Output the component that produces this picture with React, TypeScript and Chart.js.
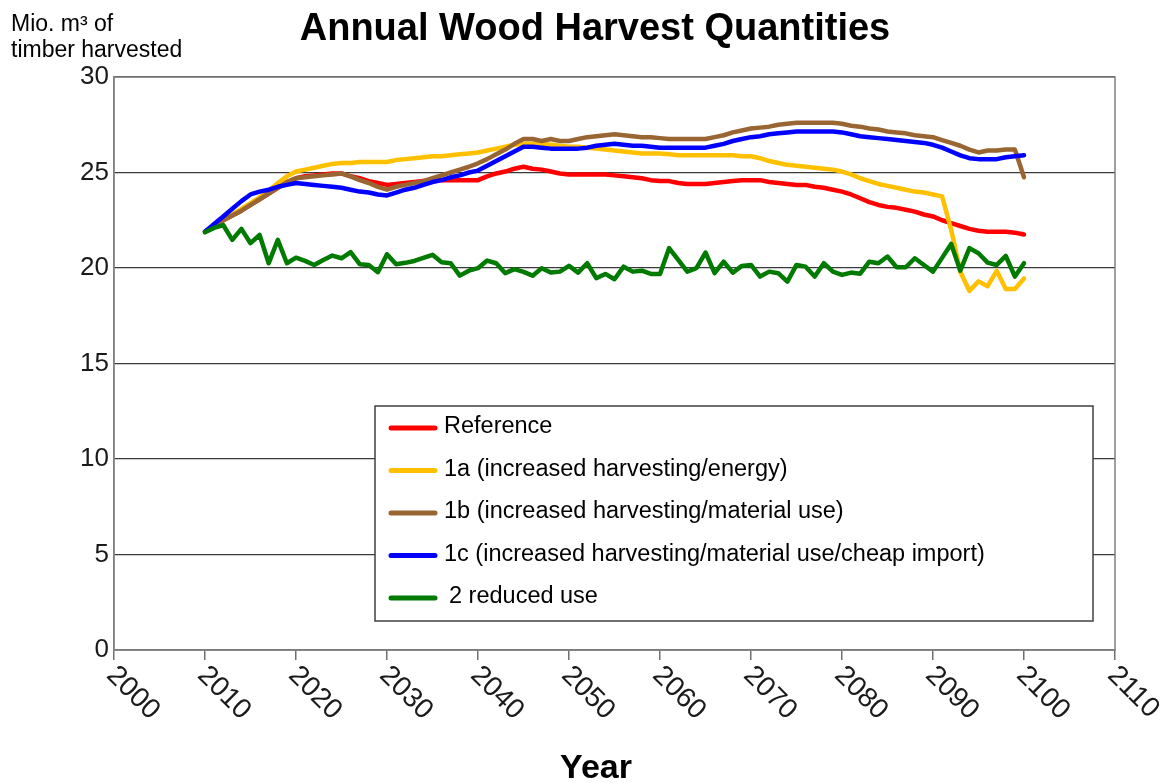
import React, { useEffect, useRef } from "react";
import { Chart, registerables } from "chart.js";

Chart.register(...registerables);

const years: number[] = [];
for (let y = 2010; y <= 2100; y++) years.push(y);

const xTickYears = [2000, 2010, 2020, 2030, 2040, 2050, 2060, 2070, 2080, 2090, 2100, 2110];
const yTickValues = [0, 5, 10, 15, 20, 25, 30];

const seriesLabels = [
  "Reference",
  "1a (increased harvesting/energy)",
  "1b (increased harvesting/material use)",
  "1c (increased harvesting/material use/cheap import)",
  "2 reduced use",
];
const seriesColors = ["#FF0000", "#FFC000", "#996633", "#0000FF", "#007A00"];

// 2010 .. 2100, yearly
const reference = [
  21.9, 22.2, 22.5, 22.75, 23.0, 23.3, 23.6, 23.9, 24.2, 24.5,
  24.7, 24.8, 24.85, 24.9, 24.95, 24.95, 24.8, 24.7, 24.55, 24.45,
  24.35, 24.4, 24.45, 24.5, 24.55, 24.6, 24.6, 24.6, 24.6, 24.6,
  24.6, 24.8, 24.95, 25.05, 25.2, 25.3, 25.2, 25.15, 25.05, 24.95,
  24.9, 24.9, 24.9, 24.9, 24.9, 24.85, 24.8, 24.75, 24.7, 24.6,
  24.55, 24.55, 24.45, 24.4, 24.4, 24.4, 24.45, 24.5, 24.55, 24.6,
  24.6, 24.6, 24.5, 24.45, 24.4, 24.35, 24.35, 24.25, 24.2, 24.1,
  24.0, 23.85, 23.65, 23.45, 23.3, 23.2, 23.15, 23.05, 22.95, 22.8,
  22.7, 22.5, 22.35, 22.2, 22.05, 21.95, 21.9, 21.9, 21.9, 21.85,
  21.75,
];

const harvestEnergy = [
  21.9, 22.2, 22.5, 22.8, 23.1, 23.4, 23.7, 24.05, 24.45, 24.8,
  25.05, 25.15, 25.25, 25.35, 25.45, 25.5, 25.5, 25.55, 25.55, 25.55,
  25.55, 25.65, 25.7, 25.75, 25.8, 25.85, 25.85, 25.9, 25.95, 26.0,
  26.05, 26.15, 26.25, 26.35, 26.45, 26.5, 26.5, 26.5, 26.45, 26.4,
  26.35, 26.35, 26.3, 26.25, 26.2, 26.15, 26.1, 26.05, 26.0, 26.0,
  26.0, 25.95, 25.9, 25.9, 25.9, 25.9, 25.9, 25.9, 25.9, 25.85,
  25.85, 25.75, 25.6, 25.5, 25.4, 25.35, 25.3, 25.25, 25.2, 25.15,
  25.05, 24.9, 24.7, 24.55, 24.4, 24.3, 24.2, 24.1, 24.0, 23.95,
  23.85, 23.75, 22.0, 19.8, 18.8, 19.3, 19.05, 19.85, 18.9, 18.9,
  19.45,
];

const harvestMaterial = [
  21.9, 22.2, 22.5, 22.75, 23.0, 23.3, 23.6, 23.9, 24.2, 24.5,
  24.7, 24.75, 24.8, 24.85, 24.9, 24.95, 24.8, 24.6, 24.45, 24.25,
  24.1, 24.25, 24.35, 24.45, 24.55, 24.7, 24.85, 25.0, 25.15, 25.3,
  25.48, 25.7, 25.95, 26.2, 26.5, 26.75, 26.75, 26.65, 26.75, 26.65,
  26.65, 26.75, 26.85, 26.9, 26.95, 27.0, 26.95, 26.9, 26.85, 26.85,
  26.8, 26.75, 26.75, 26.75, 26.75, 26.75, 26.85, 26.95, 27.1, 27.2,
  27.3, 27.35, 27.4, 27.5, 27.55, 27.6, 27.6, 27.6, 27.6, 27.6,
  27.55, 27.45, 27.4, 27.3, 27.25, 27.15, 27.1, 27.05, 26.95, 26.9,
  26.85, 26.7, 26.55, 26.4, 26.2, 26.05, 26.15, 26.15, 26.2, 26.2,
  24.75,
];

const cheapImport = [
  21.9, 22.3, 22.7, 23.1, 23.5, 23.85, 24.0, 24.1, 24.25, 24.35,
  24.45, 24.4, 24.35, 24.3, 24.25, 24.2, 24.1, 24.0, 23.95, 23.85,
  23.8, 23.95, 24.1, 24.2, 24.35, 24.5, 24.6, 24.75, 24.85, 25.0,
  25.1, 25.35, 25.6, 25.85, 26.1, 26.35, 26.35, 26.3, 26.25, 26.25,
  26.25, 26.25, 26.3, 26.4, 26.45, 26.5, 26.45, 26.4, 26.4, 26.35,
  26.3, 26.3, 26.3, 26.3, 26.3, 26.3, 26.4, 26.5, 26.65, 26.75,
  26.85, 26.9, 27.0, 27.05, 27.1, 27.15, 27.15, 27.15, 27.15, 27.15,
  27.1, 27.0, 26.9, 26.85, 26.8, 26.75, 26.7, 26.65, 26.6, 26.55,
  26.45, 26.3, 26.1, 25.9, 25.75, 25.7, 25.7, 25.7, 25.8, 25.85,
  25.9,
];

const reducedUse = [
  21.87, 22.1, 22.25, 21.47, 22.05, 21.3, 21.73, 20.25, 21.47, 20.25,
  20.54, 20.37, 20.16, 20.42, 20.65, 20.51, 20.83, 20.2, 20.16, 19.78,
  20.72, 20.2, 20.27, 20.37, 20.53, 20.69, 20.3, 20.25, 19.6, 19.86,
  19.99, 20.39, 20.25, 19.73, 19.94, 19.8, 19.6, 19.99, 19.76, 19.81,
  20.11, 19.76, 20.25, 19.47, 19.69, 19.41, 20.07, 19.81, 19.86, 19.69,
  19.69, 21.04, 20.42, 19.81, 19.99, 20.81, 19.73, 20.33, 19.76, 20.11,
  20.16, 19.55, 19.81, 19.73, 19.29, 20.16, 20.07, 19.55, 20.25, 19.81,
  19.64, 19.76, 19.7, 20.33, 20.25, 20.6, 20.04, 20.04, 20.51, 20.16,
  19.81, 20.53, 21.26, 19.86, 21.04, 20.77, 20.28, 20.16, 20.63, 19.55,
  20.25,
];

const seriesValues = [reference, harvestEnergy, harvestMaterial, cheapImport, reducedUse];
const drawOrder = [4, 3, 2, 1, 0];

const FONT = '"Liberation Sans", Arial, sans-serif';

const decorPlugin = {
  id: "decor",
  afterDraw(chart: any) {
    const ctx = chart.ctx as CanvasRenderingContext2D;
    const a = chart.chartArea;
    const xs = chart.scales.x;
    ctx.save();

    // plot frame
    ctx.strokeStyle = "#808080";
    ctx.lineWidth = 1.5;
    ctx.strokeRect(a.left, a.top, a.right - a.left, a.bottom - a.top);

    // rotated x tick labels
    ctx.fillStyle = "#1a1a1a";
    ctx.font = `28px ${FONT}`;
    ctx.textAlign = "left";
    ctx.textBaseline = "middle";
    xTickYears.forEach((yr) => {
      const px = xs.getPixelForValue(yr);
      ctx.save();
      ctx.translate(px - 3, a.bottom + 21);
      ctx.rotate(Math.PI / 4);
      ctx.fillText(String(yr), 0, 0);
      ctx.restore();
    });

    // title
    ctx.fillStyle = "#000";
    ctx.textAlign = "center";
    ctx.textBaseline = "alphabetic";
    ctx.font = `bold 38px ${FONT}`;
    ctx.fillText("Annual Wood Harvest Quantities", 595, 40);

    // x axis title
    ctx.font = `bold 34px ${FONT}`;
    ctx.fillText("Year", 596, 778);

    // y axis title
    ctx.textAlign = "left";
    ctx.font = `23px ${FONT}`;
    ctx.fillText("Mio. m\u00B3 of", 11, 31);
    ctx.fillText("timber harvested", 11, 57);

    // legend
    const bx = 375, by = 406, bw = 718, bh = 215;
    ctx.fillStyle = "#fff";
    ctx.fillRect(bx, by, bw, bh);
    ctx.strokeStyle = "#404040";
    ctx.lineWidth = 1.5;
    ctx.strokeRect(bx, by, bw, bh);
    ctx.font = `23.5px ${FONT}`;
    ctx.textBaseline = "middle";
    seriesLabels.forEach((lab, i) => {
      const ly = 428 + i * 42.5;
      ctx.strokeStyle = seriesColors[i];
      ctx.lineWidth = 5;
      ctx.lineCap = "round";
      ctx.beginPath();
      ctx.moveTo(391, ly);
      ctx.lineTo(435, ly);
      ctx.stroke();
      ctx.fillStyle = "#000";
      ctx.fillText(lab, i === 4 ? 449 : 444, ly - 1);
    });

    ctx.restore();
  },
};

export default function App() {
  const ref = useRef<HTMLCanvasElement | null>(null);

  useEffect(() => {
    if (!ref.current) return;
    const datasets = seriesLabels.map((label, i) => ({
      label,
      data: years.map((yr, k) => ({ x: yr, y: seriesValues[i][k] })),
      borderColor: seriesColors[i],
      backgroundColor: seriesColors[i],
      borderWidth: 4.5,
      pointRadius: 0,
      tension: 0,
      fill: false,
      order: drawOrder[i],
      borderJoinStyle: "round" as const,
      borderCapStyle: "round" as const,
    }));

    const chart = new Chart(ref.current, {
      type: "line",
      data: { datasets },
      options: {
        responsive: false,
        animation: false,
        devicePixelRatio: 1,
        layout: { padding: { top: 77, right: 53, left: 0, bottom: 0 } },
        plugins: {
          legend: { display: false },
          title: { display: false },
          tooltip: { enabled: false },
        },
        scales: {
          x: {
            type: "linear",
            min: 2000,
            max: 2110,
            afterFit: (scale: any) => {
              scale.height = 133;
            },
            ticks: { stepSize: 10, display: false },
            grid: {
              display: true,
              drawOnChartArea: false,
              drawTicks: true,
              tickLength: 10,
              color: "#707070",
              lineWidth: 1.5,
            },
            border: { display: true, color: "#707070", width: 1.5 },
          },
          y: {
            type: "linear",
            min: 0,
            max: 30,
            afterFit: (scale: any) => {
              scale.width = 114;
            },
            afterBuildTicks: (scale: any) => {
              scale.ticks = yTickValues.map((v) => ({ value: v }));
            },
            ticks: {
              padding: 5,
              color: "#1a1a1a",
              font: { family: FONT, size: 26 },
            },
            grid: {
              display: true,
              drawTicks: false,
              color: "#3a3a3a",
              lineWidth: 1.2,
            },
            border: { display: true, color: "#808080", width: 1.5 },
          },
        },
      },
      plugins: [decorPlugin],
    });
    return () => chart.destroy();
  }, []);

  return (
    <div style={{ position: "absolute", left: 0, top: 0, width: 1168, height: 783, background: "#fff" }}>
      <canvas ref={ref} width={1168} height={783} />
    </div>
  );
}
